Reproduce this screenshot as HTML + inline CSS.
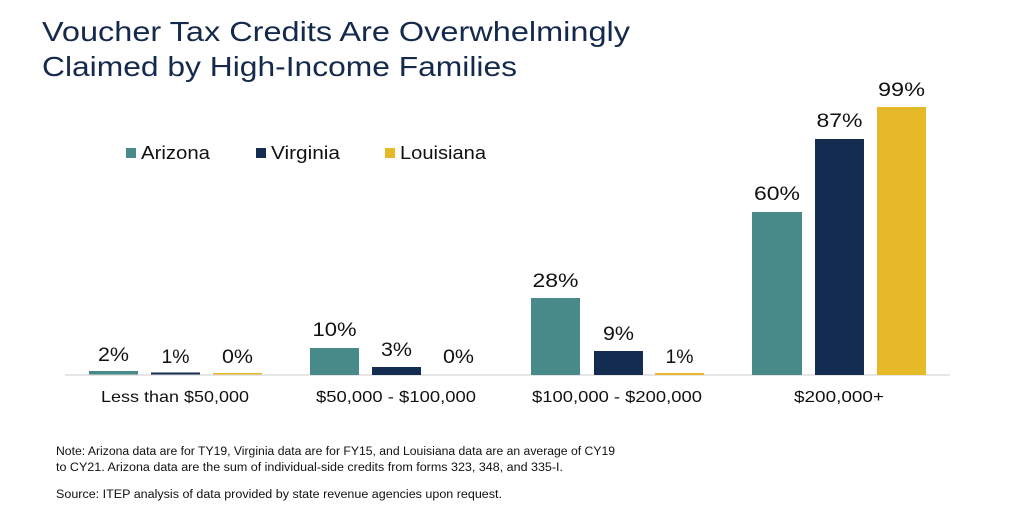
<!DOCTYPE html>
<html><head><meta charset="utf-8"><style>
body{margin:0;background:#fff;width:1024px;height:519px;overflow:hidden;font-family:"Liberation Sans",sans-serif}
</style></head><body>
<svg width="1024" height="519" xmlns="http://www.w3.org/2000/svg" font-family="Liberation Sans, sans-serif">
<text x="42" y="41" font-size="28" fill="#14294b" textLength="588" lengthAdjust="spacingAndGlyphs">Voucher Tax Credits Are Overwhelmingly</text>
<text x="42" y="76" font-size="28" fill="#14294b" textLength="475" lengthAdjust="spacingAndGlyphs">Claimed by High-Income Families</text>
<rect x="126" y="148" width="10" height="10" fill="#478a89"/>
<text x="141" y="159" font-size="18" fill="#111" textLength="69" lengthAdjust="spacingAndGlyphs">Arizona</text>
<rect x="256" y="148" width="10" height="10" fill="#132c4f"/>
<text x="271" y="159" font-size="18" fill="#111" textLength="69" lengthAdjust="spacingAndGlyphs">Virginia</text>
<rect x="385" y="148" width="10" height="10" fill="#e5b927"/>
<text x="400" y="159" font-size="18" fill="#111" textLength="86" lengthAdjust="spacingAndGlyphs">Louisiana</text>
<line x1="65" y1="375" x2="950" y2="375" stroke="#ddd" stroke-width="1.5"/>
<g font-size="19" fill="#111" text-anchor="middle">
<rect x="89" y="371" width="49" height="3.5" fill="#478a89"/><text x="113.5" y="361" textLength="31" lengthAdjust="spacingAndGlyphs">2%</text>
<rect x="151" y="372.5" width="49" height="2" fill="#132c4f"/><text x="175.5" y="363" textLength="28" lengthAdjust="spacingAndGlyphs">1%</text>
<rect x="213" y="373" width="49" height="1.5" fill="#e5b927"/><text x="237.5" y="363" textLength="31" lengthAdjust="spacingAndGlyphs">0%</text>
<rect x="310" y="348" width="49" height="27" fill="#478a89"/><text x="334.5" y="336" textLength="44" lengthAdjust="spacingAndGlyphs">10%</text>
<rect x="372" y="367" width="49" height="8" fill="#132c4f"/><text x="396.5" y="356" textLength="31" lengthAdjust="spacingAndGlyphs">3%</text>
<text x="458.5" y="363" textLength="31" lengthAdjust="spacingAndGlyphs">0%</text>
<rect x="531" y="298" width="49" height="77" fill="#478a89"/><text x="555.5" y="287" textLength="46" lengthAdjust="spacingAndGlyphs">28%</text>
<rect x="594" y="351" width="49" height="24" fill="#132c4f"/><text x="618.5" y="340" textLength="31" lengthAdjust="spacingAndGlyphs">9%</text>
<rect x="655" y="373" width="49" height="2" fill="#e5b927"/><text x="679.5" y="363" textLength="28" lengthAdjust="spacingAndGlyphs">1%</text>
<rect x="752" y="212" width="50" height="163" fill="#478a89"/><text x="777" y="200" textLength="46" lengthAdjust="spacingAndGlyphs">60%</text>
<rect x="815" y="139" width="49" height="236" fill="#132c4f"/><text x="839.5" y="127" textLength="46" lengthAdjust="spacingAndGlyphs">87%</text>
<rect x="877" y="107" width="49" height="268" fill="#e5b927"/><text x="901.5" y="96" textLength="47" lengthAdjust="spacingAndGlyphs">99%</text>
</g>
<g font-size="16" fill="#111" text-anchor="middle">
<text x="175" y="402" textLength="148" lengthAdjust="spacingAndGlyphs">Less than $50,000</text>
<text x="396" y="402" textLength="160" lengthAdjust="spacingAndGlyphs">$50,000 - $100,000</text>
<text x="617" y="402" textLength="170" lengthAdjust="spacingAndGlyphs">$100,000 - $200,000</text>
<text x="839" y="402" textLength="90" lengthAdjust="spacingAndGlyphs">$200,000+</text>
</g>
<g font-size="11.5" fill="#111">
<text x="56" y="455" textLength="559" lengthAdjust="spacingAndGlyphs">Note: Arizona data are for TY19, Virginia data are for FY15, and Louisiana data are an average of CY19</text>
<text x="56" y="471" textLength="507" lengthAdjust="spacingAndGlyphs">to CY21. Arizona data are the sum of individual-side credits from forms 323, 348, and 335-I.</text>
<text x="56" y="498" textLength="446" lengthAdjust="spacingAndGlyphs">Source: ITEP analysis of data provided by state revenue agencies upon request.</text>
</g>
</svg>
</body></html>
